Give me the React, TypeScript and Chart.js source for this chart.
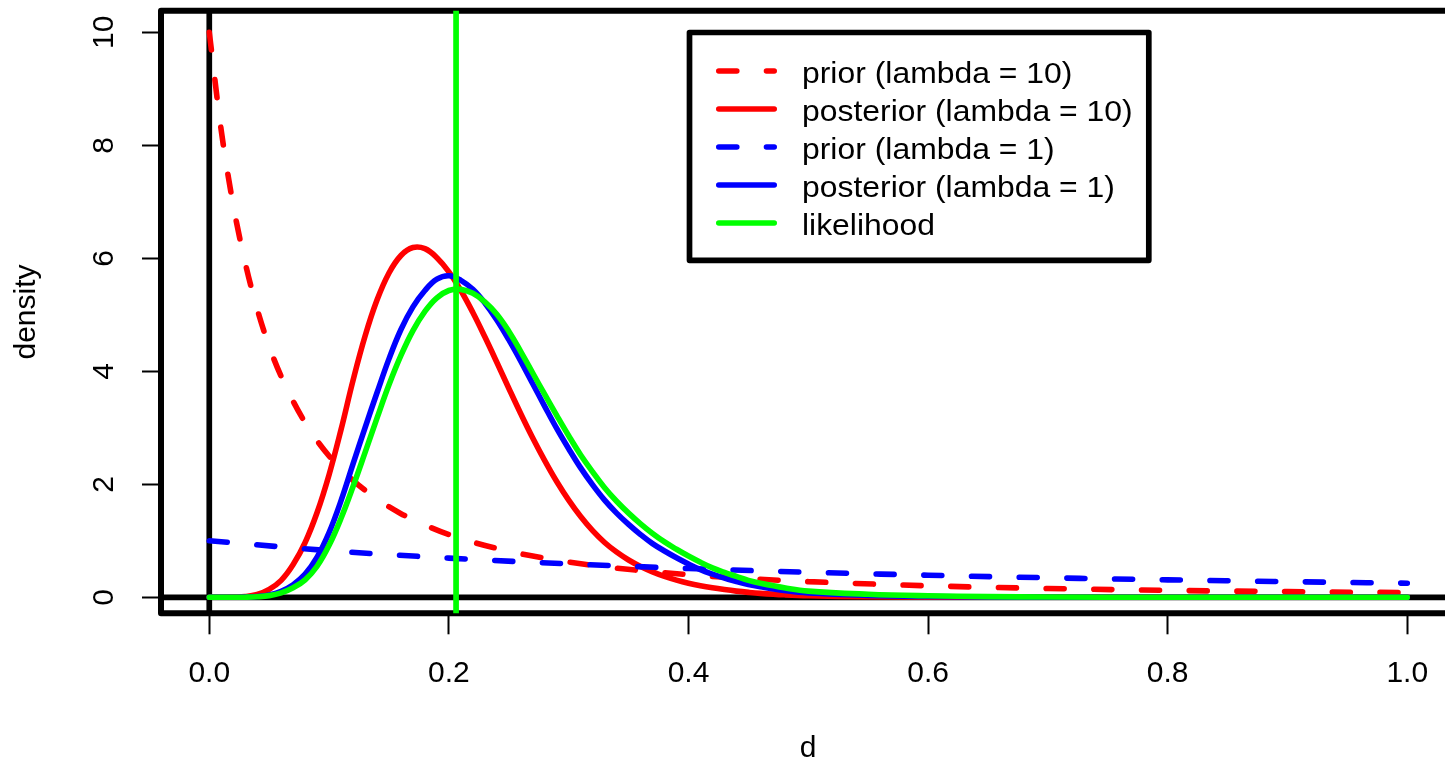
import React, { useEffect, useRef } from "react";
import { Chart, registerables } from "chart.js";

Chart.register(...registerables);

const FONT = '"Liberation Sans", Arial, Helvetica, sans-serif';

// ---- tick labels ----
const xTicks = [0, 0.2, 0.4, 0.6, 0.8, 1.0];
const xTickLabels = ["0.0", "0.2", "0.4", "0.6", "0.8", "1.0"];
const yTicks = [0, 2, 4, 6, 8, 10];
const yTickLabels = ["0", "2", "4", "6", "8", "10"];

// ---- series names (legend order) ----
const seriesLabels = [
  "prior (lambda = 10)",
  "posterior (lambda = 10)",
  "prior (lambda = 1)",
  "posterior (lambda = 1)",
  "likelihood",
];

// ---- prior, lambda = 10 ----
const priorLam10D = [0, 0.01, 0.02, 0.03, 0.04, 0.05, 0.06, 0.08, 0.1, 0.12, 0.14, 0.16, 0.18, 0.2, 0.24, 0.28, 0.32, 0.36, 0.4, 0.45, 0.5, 0.6, 0.7, 0.8, 0.9, 1.0];
const priorLam10 = [10, 8.26, 6.94, 5.92, 5.1, 4.44, 3.91, 3.09, 2.5, 2.07, 1.74, 1.48, 1.28, 1.11, 0.865, 0.693, 0.567, 0.473, 0.4, 0.331, 0.278, 0.204, 0.156, 0.123, 0.1, 0.083];

// ---- prior, lambda = 1 ----
const priorLam1D = [0, 0.1, 0.2, 0.3, 0.4, 0.5, 0.6, 0.7, 0.8, 0.9, 1.0];
const priorLam1 = [1, 0.826, 0.694, 0.592, 0.51, 0.444, 0.391, 0.346, 0.309, 0.277, 0.25];

// ---- d grid shared by the posteriors and the likelihood ----
const gridD = [
  0, 0.01, 0.02, 0.03, 0.04, 0.05, 0.06, 0.07, 0.08, 0.09,
  0.1, 0.11, 0.12, 0.13, 0.14, 0.15, 0.16, 0.17, 0.18, 0.19,
  0.2, 0.21, 0.22, 0.23, 0.24, 0.25, 0.26, 0.27, 0.28, 0.29,
  0.3, 0.31, 0.32, 0.33, 0.34, 0.35, 0.36, 0.37, 0.38, 0.39,
  0.4, 0.41, 0.42, 0.43, 0.44, 0.45, 0.46, 0.48, 0.5, 0.55,
  0.6, 0.65, 0.7, 0.8, 0.9, 1.0,
];

// ---- posterior, lambda = 10 ----
const postLam10 = [
  0, 0, 0.003, 0.012, 0.05, 0.14, 0.3, 0.58, 0.97, 1.5,
  2.17, 2.97, 3.84, 4.62, 5.26, 5.74, 6.05, 6.19, 6.17, 6.01,
  5.76, 5.43, 5.04, 4.61, 4.16, 3.7, 3.25, 2.82, 2.42, 2.05,
  1.72, 1.43, 1.18, 0.97, 0.8, 0.66, 0.545, 0.45, 0.37, 0.305,
  0.25, 0.205, 0.168, 0.137, 0.11, 0.088, 0.07, 0.044, 0.027, 0.01,
  0.004, 0.0015, 0.0005, 0, 0, 0,
];

// ---- posterior, lambda = 1 ----
const postLam1 = [
  0, 0, 0, 0.003, 0.014, 0.041, 0.107, 0.224, 0.41, 0.71,
  1.145, 1.71, 2.36, 3.0, 3.62, 4.22, 4.74, 5.14, 5.43, 5.63,
  5.69, 5.61, 5.45, 5.21, 4.91, 4.56, 4.18, 3.78, 3.38, 2.99,
  2.63, 2.29, 1.99, 1.72, 1.49, 1.29, 1.11, 0.95, 0.82, 0.7,
  0.59, 0.49, 0.41, 0.34, 0.28, 0.225, 0.185, 0.12, 0.077, 0.035,
  0.015, 0.006, 0.002, 0, 0, 0,
];

// ---- likelihood ----
const likelihood = [
  0, 0, 0, 0.002, 0.01, 0.03, 0.08, 0.17, 0.31, 0.55,
  0.92, 1.4, 1.96, 2.56, 3.17, 3.76, 4.28, 4.72, 5.06, 5.3,
  5.43, 5.45, 5.38, 5.23, 5.01, 4.71, 4.35, 3.97, 3.59, 3.22,
  2.86, 2.52, 2.22, 1.94, 1.7, 1.49, 1.3, 1.13, 0.98, 0.85,
  0.73, 0.62, 0.52, 0.44, 0.37, 0.3, 0.25, 0.17, 0.11, 0.055,
  0.027, 0.012, 0.005, 0.001, 0, 0,
];

// ---- reference line ----
const markerD = 0.206;

const RED = "#FF0000";
const BLUE = "#0000FF";
const GREEN = "#00FF00";
const DASH = [18, 29.7];
const LW = 5.6;

export default function App() {
  const ref = useRef<HTMLCanvasElement | null>(null);

  useEffect(() => {
    const canvas = ref.current;
    if (!canvas) return;
    const pts = (xs: number[], ys: number[]) => xs.map((x, i) => ({ x, y: ys[i] }));

    const framePlugin = {
      id: "rFrame",
      beforeDatasetsDraw(chart: any) {
        const { ctx, chartArea: a, scales } = chart;
        ctx.save();
        ctx.strokeStyle = "#000";
        ctx.lineJoin = "round";
        ctx.lineWidth = 6;
        ctx.strokeRect(a.left, a.top, a.right - a.left, a.bottom - a.top);
        ctx.lineWidth = 5.7;
        ctx.lineCap = "butt";
        const x0 = scales.x.getPixelForValue(0);
        const y0 = scales.y.getPixelForValue(0);
        ctx.beginPath();
        ctx.moveTo(x0, a.top);
        ctx.lineTo(x0, a.bottom);
        ctx.moveTo(a.left, y0);
        ctx.lineTo(a.right, y0);
        ctx.stroke();
        ctx.restore();
      },
      afterDatasetsDraw(chart: any) {
        const { ctx, chartArea: a, scales } = chart;
        const xm = scales.x.getPixelForValue(markerD);
        ctx.save();
        ctx.strokeStyle = GREEN;
        ctx.lineWidth = 5.7;
        ctx.beginPath();
        ctx.moveTo(xm, a.top);
        ctx.lineTo(xm, a.bottom);
        ctx.stroke();
        ctx.restore();
      },
      afterDraw(chart: any) {
        const { ctx } = chart;
        const bx1 = 689.5, by1 = 32.5, bx2 = 1148.8, by2 = 260.3;
        ctx.save();
        ctx.fillStyle = "#fff";
        ctx.fillRect(bx1, by1, bx2 - bx1, by2 - by1);
        ctx.strokeStyle = "#000";
        ctx.lineWidth = 5.7;
        ctx.lineJoin = "round";
        ctx.strokeRect(bx1, by1, bx2 - bx1, by2 - by1);
        chart.data.datasets.forEach((ds: any, i: number) => {
          const yRow = 71 + i * 38;
          ctx.save();
          ctx.strokeStyle = ds.borderColor;
          ctx.lineWidth = ds.borderWidth;
          ctx.lineCap = "round";
          ctx.setLineDash(ds.borderDash || []);
          ctx.beginPath();
          ctx.moveTo(718.8, yRow);
          ctx.lineTo(774.2, yRow);
          ctx.stroke();
          ctx.restore();
          ctx.save();
          ctx.translate(802, yRow + 12);
          ctx.scale(1.1, 1);
          ctx.fillStyle = "#000";
          ctx.font = `29px ${FONT}`;
          ctx.textBaseline = "alphabetic";
          ctx.textAlign = "left";
          ctx.fillText(ds.label, 0, 0);
          ctx.restore();
        });
        ctx.restore();
      },
    };

    const line = (label: string, data: any[], color: string, dashed: boolean, order: number) => ({
      label,
      data,
      borderColor: color,
      backgroundColor: color,
      borderWidth: LW,
      borderDash: dashed ? DASH : [],
      borderCapStyle: "round",
      borderJoinStyle: "round",
      pointRadius: 0,
      fill: false,
      cubicInterpolationMode: dashed ? "monotone" : "default",
      tension: dashed ? 0 : 0.4,
      order,
    });

    const chart = new Chart(canvas, {
      type: "line",
      data: {
        datasets: [
          line(seriesLabels[0], pts(priorLam10D, priorLam10), RED, true, 5),
          line(seriesLabels[1], pts(gridD, postLam10), RED, false, 4),
          line(seriesLabels[2], pts(priorLam1D, priorLam1), BLUE, true, 3),
          line(seriesLabels[3], pts(gridD, postLam1), BLUE, false, 2),
          line(seriesLabels[4], pts(gridD, likelihood), GREEN, false, 1),
        ] as any,
      },
      options: {
        responsive: false,
        animation: false,
        devicePixelRatio: 1,
        layout: { padding: { left: 0, top: 10.7, right: 44.8, bottom: 0 } },
        plugins: { legend: { display: false }, tooltip: { enabled: false } },
        scales: {
          x: {
            type: "linear",
            min: -0.0403,
            max: 1.04,
            afterBuildTicks: (s: any) => {
              s.ticks = xTicks.map((v) => ({ value: v }));
            },
            afterFit: (s: any) => {
              s.height = 153.7;
              s.paddingLeft = 0;
              s.paddingRight = 0;
              s.paddingTop = 0;
              s.paddingBottom = 0;
            },
            ticks: {
              callback: (_v: any, i: number) => xTickLabels[i],
              font: { family: FONT, size: 30 },
              color: "#000",
              padding: 21,
              minRotation: 0,
              maxRotation: 0,
              autoSkip: false,
            },
            grid: { display: true, drawOnChartArea: false, drawTicks: true, tickLength: 21, tickColor: "#000", tickWidth: 2 },
            border: { display: false },
            title: { display: true, text: "d", font: { family: FONT, size: 30 }, color: "#000", padding: { top: 0, bottom: 0 } },
          },
          y: {
            type: "linear",
            min: -0.283,
            max: 10.382,
            afterBuildTicks: (s: any) => {
              s.ticks = yTicks.map((v) => ({ value: v }));
            },
            afterFit: (s: any) => {
              s.width = 161;
              s.paddingLeft = 0;
              s.paddingRight = 0;
              s.paddingTop = 0;
              s.paddingBottom = 0;
            },
            ticks: {
              callback: (_v: any, i: number) => yTickLabels[i],
              font: { family: FONT, size: 30 },
              color: "#000",
              padding: 20.8,
              minRotation: 90,
              maxRotation: 90,
              crossAlign: "center",
              autoSkip: false,
            },
            grid: { display: true, drawOnChartArea: false, drawTicks: true, tickLength: 19, tickColor: "#000", tickWidth: 2 },
            border: { display: false },
            title: { display: true, text: "density", font: { family: FONT, size: 30 }, color: "#000", padding: { top: 9.2, bottom: 0 } },
          },
        },
      } as any,
      plugins: [framePlugin],
    });

    return () => chart.destroy();
  }, []);

  return (
    <div style={{ position: "fixed", left: 0, top: 0, width: 1445, height: 767, overflow: "hidden", background: "#fff" }}>
      <canvas ref={ref} width={1500} height={767} style={{ display: "block", width: 1500, height: 767 }} />
    </div>
  );
}
